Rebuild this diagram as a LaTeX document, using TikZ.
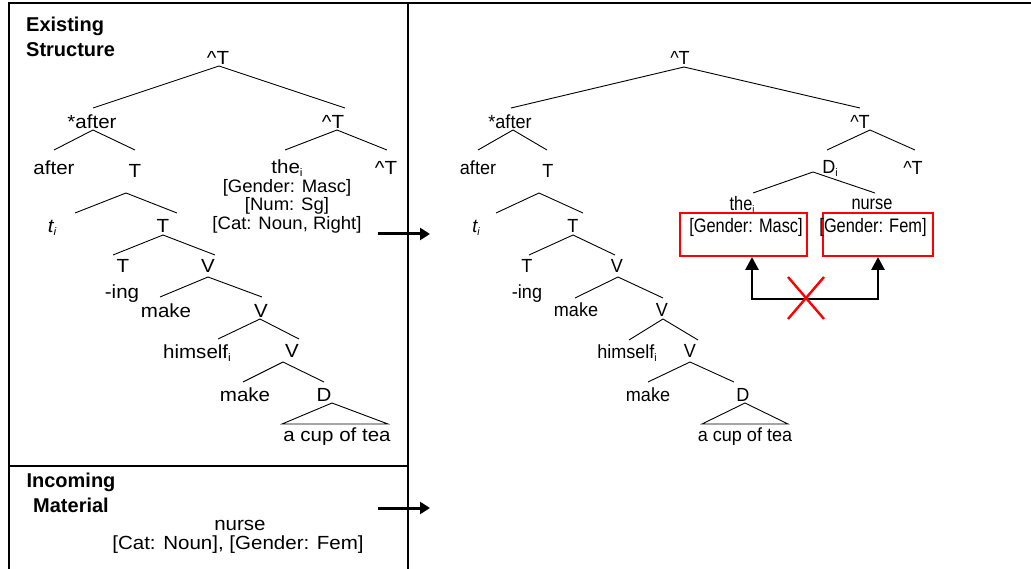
\documentclass[tikz,border=0pt]{standalone}
\usepackage{fontspec}
\setmainfont{Liberation Sans}
\newfontfamily\lwf[FakeStretch=1.08]{Liberation Sans}
\newfontfamily\lff[FakeStretch=1.03]{Liberation Sans}
\newfontfamily\rwf[FakeStretch=0.95]{Liberation Sans}
\newfontfamily\rff[FakeStretch=0.84]{Liberation Sans}
\usetikzlibrary{arrows.meta,calc}
% small lowered index letter
\newcommand\lowi{\raisebox{-3pt}{\fontsize{11}{11}\selectfont i}}
\newcommand\hatT{\textasciicircum T}
\begin{document}
\begin{tikzpicture}[x=1pt,y=-1pt,
  lw/.style={font=\lwf\fontsize{19}{19}\selectfont, inner sep=0pt, anchor=base},
  lf/.style={font=\lff\fontsize{18}{18}\selectfont, inner sep=0pt, anchor=base},
  rw/.style={font=\rwf\fontsize{19}{19}\selectfont, inner sep=0pt, anchor=base},
  rf/.style={font=\rff\fontsize{19.5}{19.5}\selectfont, inner sep=0pt, anchor=base},
  heading/.style={font=\bfseries\fontsize{20}{25}\selectfont, inner sep=0pt},
  branch/.style={line width=0.9pt},
  frame/.style={line width=1.6pt},
  feedarrow/.style={line width=3pt, -{Triangle[length=10pt,width=12pt]}},
  clash/.style={line width=2.8pt, {Triangle[length=13pt,width=13pt]}-{Triangle[length=13pt,width=13pt]}},
  redbox/.style={draw=red, line width=2pt, minimum height=43pt, inner sep=0pt},
  cross/.style={draw=red, line width=2.4pt}]
\useasboundingbox (0,0) rectangle (1031,569);

% panel frame
\draw[frame] (9,569) -- (9,3) -- (1031,3);
\draw[frame] (408,3) -- (408,569);
\draw[frame] (9,466) -- (408,466);

% headings
\node[heading, align=left, anchor=north west] (exist) at (26,17) {Existing\\Structure};
\node[heading, align=center, anchor=north] (incoming) at (71,473) {Incoming\\Material};

% ---------- left tree ----------
\node[lw] (Lroot) at (218,65) {\hatT};
\node[lw] (Lsa) at (92,129) {*after};
\node[lw] (Lht) at (333,129) {\hatT};
\node[lw] (Laft) at (54,175) {after};
\node[lw] (LT1) at (135,178) {T};
\node[lw] (Lthe) at (287,174) {the\lowi};
\node[lw] (Lhtr) at (386,175) {\hatT};
\node[lf] (Lgm) at (287,193) {[Gender: Masc]};
\node[lf] (Lnum) at (287,211) {[Num: Sg]};
\node[lf] (Lcat) at (287,230) {[Cat: Noun, Right]};
\node[lw] (Lti) at (52,233) {\itshape t\lowi};
\node[lw] (LT2) at (163,233) {T};
\node[lw] (LT3) at (123,273) {T};
\node[lw] (LV1) at (208,273) {V};
\node[lw] (Ling) at (122,299) {-ing};
\node[lw] (Lmk1) at (166,318) {make};
\node[lw] (LV2) at (261,318) {V};
\node[lw] (Lhim) at (197,359) {himself\lowi};
\node[lw] (LV3) at (292,358) {V};
\node[lw] (Lmk2) at (245,401) {make};
\node[lw] (LD) at (324,401) {D};
\node[lw] (Lcup) at (337,441) {a cup of tea};

\draw[branch] ([shift={(1,1)}]Lroot.base) -- ([shift={(1,-21)}]Lsa.base);
\draw[branch] ([shift={(1,1)}]Lroot.base) -- ([shift={(12,-21)}]Lht.base);
\draw[branch] ([shift={(1,1)}]Lsa.base) -- ([shift={(0,-25)}]Laft.base);
\draw[branch] ([shift={(1,1)}]Lsa.base) -- ([shift={(0,-28)}]LT1.base);
\draw[branch] ([shift={(4,1)}]Lht.base) -- ([shift={(-2,-24)}]Lthe.base);
\draw[branch] ([shift={(4,1)}]Lht.base) -- ([shift={(1,-25)}]Lhtr.base);
\draw[branch] ([shift={(-9,15)}]LT1.base) -- ([shift={(23,-20)}]Lti.base);
\draw[branch] ([shift={(-9,15)}]LT1.base) -- ([shift={(14,-20)}]LT2.base);
\draw[branch] ([shift={(0,2)}]LT2.base) -- ([shift={(-10,-18)}]LT3.base);
\draw[branch] ([shift={(0,2)}]LT2.base) -- ([shift={(7,-18)}]LV1.base);
\draw[branch] ([shift={(0,4)}]LV1.base) -- ([shift={(-6,-21)}]Lmk1.base);
\draw[branch] ([shift={(0,4)}]LV1.base) -- ([shift={(1,-21)}]LV2.base);
\draw[branch] ([shift={(-1,1)}]LV2.base) -- ([shift={(21,-20)}]Lhim.base);
\draw[branch] ([shift={(-1,1)}]LV2.base) -- ([shift={(7,-19)}]LV3.base);
\draw[branch] ([shift={(-9,4)}]LV3.base) -- ([shift={(-2,-19)}]Lmk2.base);
\draw[branch] ([shift={(-9,4)}]LV3.base) -- ([shift={(0,-19)}]LD.base);
\draw[branch] ([shift={(8,2)}]LD.base) -- ([shift={(51,-17)}]Lcup.base)
  -- ([shift={(-55,-17)}]Lcup.base) -- cycle;

% incoming word
\node[lw] (Inurse) at (240,530) {nurse};
\node[lw] (Icat) at (238,549) {[Cat: Noun], [Gender: Fem]};

% feeding arrows
\coordinate (f1a) at (378,234);
\coordinate (f1b) at (430,234);
\coordinate (f2a) at (378,508);
\coordinate (f2b) at (430,508);
\draw[feedarrow] (f1a) -- (f1b);
\draw[feedarrow] (f2a) -- (f2b);

% ---------- right tree ----------
\node[redbox, minimum width=127pt] (box1) at (743.5,234.5) {};
\node[redbox, minimum width=110pt] (box2) at (878,234.5) {};

\node[rw] (Rroot) at (680,65) {\hatT};
\node[rw] (Rsa) at (510,129) {*after};
\node[rw] (Rht) at (860,129) {\hatT};
\node[rw] (Raft) at (478,175) {after};
\node[rw] (RT1) at (548,178) {T};
\node[rw] (RDi) at (830,174) {D\lowi};
\node[rw] (Rhtr) at (913,175) {\hatT};
\node[rf] (Rthe) at (742,211) {the\lowi};
\node[rf] (Rnurse) at (872,210) {nurse};
\node[rf] (Rgm) at (746,233) {[Gender: Masc]};
\node[rf] (Rgf) at (873,233) {[Gender: Fem]};
\node[rw] (Rti) at (476,233) {\itshape t\lowi};
\node[rw] (RT2) at (573,233) {T};
\node[rw] (RT3) at (527,273) {T};
\node[rw] (RV1) at (617,273) {V};
\node[rw] (Ring) at (527,299) {-ing};
\node[rw] (Rmk1) at (576,317) {make};
\node[rw] (RV2) at (662,317) {V};
\node[rw] (Rhim) at (627,359) {himself\lowi};
\node[rw] (RV3) at (690,358) {V};
\node[rw] (Rmk2) at (648,401) {make};
\node[rw] (RD) at (743,401) {D};
\node[rw] (Rcup) at (745,441) {a cup of tea};

\draw[branch] ([shift={(4,2)}]Rroot.base) -- ([shift={(1,-21)}]Rsa.base);
\draw[branch] ([shift={(4,2)}]Rroot.base) -- ([shift={(0,-21)}]Rht.base);
\draw[branch] ([shift={(3,1)}]Rsa.base) -- ([shift={(0,-25)}]Raft.base);
\draw[branch] ([shift={(3,1)}]Rsa.base) -- ([shift={(-1,-28)}]RT1.base);
\draw[branch] ([shift={(10,1)}]Rht.base) -- ([shift={(-3,-24)}]RDi.base);
\draw[branch] ([shift={(10,1)}]Rht.base) -- ([shift={(2,-25)}]Rhtr.base);
\draw[branch] ([shift={(-17,-2)}]RDi.base) -- ([shift={(11,-18)}]Rthe.base);
\draw[branch] ([shift={(-17,-2)}]RDi.base) -- ([shift={(3,-17)}]Rnurse.base);
\draw[branch] ([shift={(-9,15)}]RT1.base) -- ([shift={(20,-20)}]Rti.base);
\draw[branch] ([shift={(-9,15)}]RT1.base) -- ([shift={(10,-20)}]RT2.base);
\draw[branch] ([shift={(0,2)}]RT2.base) -- ([shift={(2,-18)}]RT3.base);
\draw[branch] ([shift={(0,2)}]RT2.base) -- ([shift={(-2,-18)}]RV1.base);
\draw[branch] ([shift={(1,4)}]RV1.base) -- ([shift={(-1,-19)}]Rmk1.base);
\draw[branch] ([shift={(1,4)}]RV1.base) -- ([shift={(1,-19)}]RV2.base);
\draw[branch] ([shift={(1,2)}]RV2.base) -- ([shift={(2,-19)}]Rhim.base);
\draw[branch] ([shift={(1,2)}]RV2.base) -- ([shift={(8,-18)}]RV3.base);
\draw[branch] ([shift={(0,4)}]RV3.base) -- ([shift={(0,-19)}]Rmk2.base);
\draw[branch] ([shift={(0,4)}]RV3.base) -- ([shift={(-9,-19)}]RD.base);
\draw[branch] ([shift={(2,2)}]RD.base) -- ([shift={(43,-17)}]Rcup.base)
  -- ([shift={(-43,-17)}]Rcup.base) -- cycle;

% feature clash
\draw[clash] ([xshift=8.5pt]box1.south) -- ++(0,42) -| (box2.south);
\coordinate (xc) at (806,298);
\draw[cross] ($(xc)+(-18,-21)$) -- ($(xc)+(18,21)$);
\draw[cross] ($(xc)+(18,-21)$) -- ($(xc)+(-18,21)$);
\end{tikzpicture}
\end{document}
